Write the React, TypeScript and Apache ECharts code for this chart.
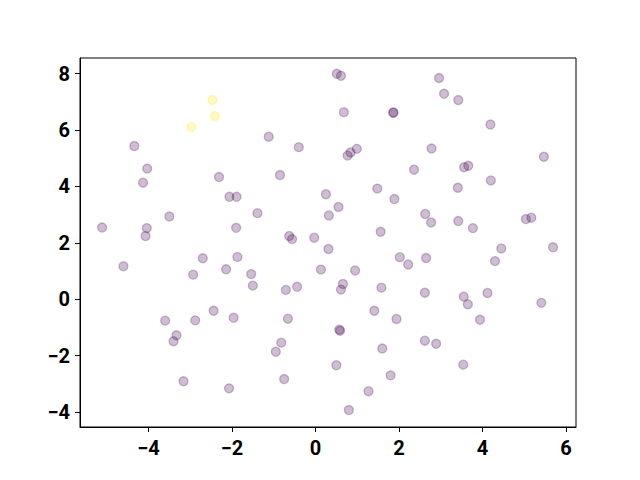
import React, { useEffect, useRef } from "react";
import * as echarts from "echarts";

const purpleX = [
  -4.34, -4.03, -4.13, -1.12, -0.40, -2.31, -0.85, -2.06, -1.89, -3.50, -1.39, -5.11, -4.04, -1.90, -4.07, -0.63, -0.56, -0.03,
  0.51, 0.61, 2.96, 3.08, 3.42, 0.68, 1.86, 1.87, 4.19, 0.99, 0.84, 0.77, 2.78, 2.36, 5.47, 3.56, 3.66, 4.20, 0.25, 1.48, 3.41, 1.89, 0.55, 0.32, 2.63, 2.77, 3.42, 3.77, 5.04, 5.17, 1.56,
  -4.60, -2.70, -1.87, -2.93, -2.14, -1.54, -1.50, -0.71, -0.44, 0.13, -3.60, -2.88, -2.44, -1.96, -0.66, -3.33, -3.40, -0.82, -0.95, -3.16, -2.07, -0.75,
  0.31, 4.45, 5.69, 2.02, 2.22, 2.65, 4.30, 0.95, 0.66, 0.61, 1.58, 2.62, 3.55, 3.65, 4.12, 5.41, 1.41, 1.94, 3.94, 0.57, 0.59, 2.62, 2.89, 1.60, 0.50, 3.54, 1.80, 1.27, 0.80,
];
const purpleY = [
  5.43, 4.63, 4.13, 5.76, 5.39, 4.33, 4.40, 3.63, 3.63, 2.93, 3.05, 2.54, 2.52, 2.53, 2.24, 2.24, 2.13, 2.18,
  7.99, 7.92, 7.84, 7.28, 7.06, 6.63, 6.61, 6.62, 6.19, 5.33, 5.20, 5.09, 5.34, 4.59, 5.05, 4.68, 4.73, 4.21, 3.72, 3.92, 3.95, 3.55, 3.27, 2.97, 3.02, 2.72, 2.77, 2.52, 2.84, 2.89, 2.39,
  1.17, 1.45, 1.50, 0.87, 1.06, 0.89, 0.48, 0.33, 0.44, 1.05, -0.76, -0.75, -0.41, -0.66, -0.69, -1.28, -1.49, -1.54, -1.86, -2.91, -3.16, -2.83,
  1.78, 1.80, 1.84, 1.49, 1.23, 1.46, 1.35, 1.02, 0.54, 0.34, 0.41, 0.23, 0.09, -0.18, 0.22, -0.13, -0.41, -0.70, -0.73, -1.08, -1.12, -1.47, -1.58, -1.75, -2.34, -2.32, -2.70, -3.26, -3.93,
];
const yellowX = [-2.47, -2.41, -2.97];
const yellowY = [7.06, 6.49, 6.10];

const xTicks = [-4, -2, 0, 2, 4, 6];
const yTicks = [-4, -2, 0, 2, 4, 6, 8];

const fmt = (v: number) => (v < 0 ? "\u2212" + Math.abs(v) : String(v));

export default function App() {
  const ref = useRef<HTMLDivElement>(null);
  useEffect(() => {
    if (!ref.current) return;
    const chart = echarts.init(ref.current, null, { renderer: "svg" });
    const purple = purpleX.map((x, i) => [x, purpleY[i]]);
    const yellow = yellowX.map((x, i) => [x, yellowY[i]]);
    const labelStyle = {
      color: "#000",
      fontSize: 20,
      fontWeight: "bold" as const,
      fontFamily: "Roboto",
      formatter: fmt,
    };
    chart.setOption({
      animation: false,
      grid: {
        left: 80,
        right: 64,
        top: 58,
        bottom: 53,
        show: true,
        borderColor: "#000",
        borderWidth: 1,
        backgroundColor: "transparent",
      },
      xAxis: {
        type: "value",
        min: -5.64,
        max: 6.24,
        axisLine: { show: true, onZero: false, lineStyle: { color: "#000", width: 1 } },
        axisTick: { show: true, length: 5, lineStyle: { color: "#000" }, customValues: xTicks },
        axisLabel: { ...labelStyle, margin: 11, customValues: xTicks },
        splitLine: { show: false },
      },
      yAxis: {
        type: "value",
        min: -4.53,
        max: 8.55,
        axisLine: { show: true, onZero: false, lineStyle: { color: "#000", width: 1 } },
        axisTick: { show: true, length: 5, lineStyle: { color: "#000" }, customValues: yTicks },
        axisLabel: { ...labelStyle, margin: 10, customValues: yTicks },
        splitLine: { show: false },
      },
      series: [
        {
          type: "scatter",
          data: purple,
          symbolSize: 9,
          itemStyle: {
            color: "rgba(68,1,84,0.32)",
            borderColor: "rgba(68,1,84,0.32)",
            borderWidth: 1.3,
          },
        },
        {
          type: "scatter",
          data: yellow,
          symbolSize: 9,
          itemStyle: {
            color: "rgba(253,231,37,0.34)",
            borderColor: "rgba(253,231,37,0.34)",
            borderWidth: 1.3,
          },
        },
      ],
    });
    return () => chart.dispose();
  }, []);
  return (
    <div
      ref={ref}
      style={{ position: "fixed", left: 0, top: 0, width: 640, height: 480, background: "#fff" }}
    />
  );
}
